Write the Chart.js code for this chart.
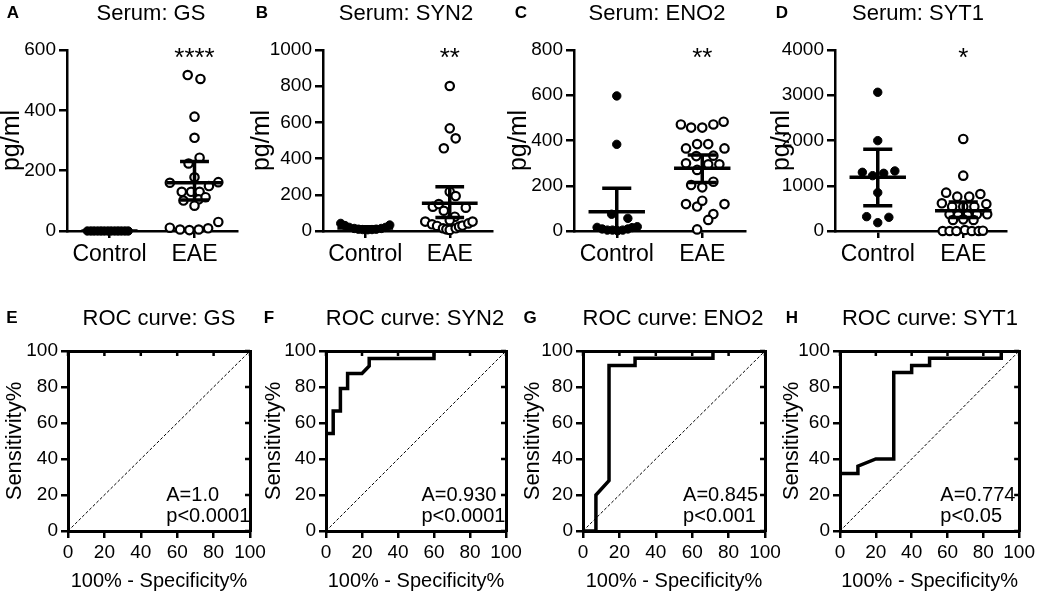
<!DOCTYPE html>
<html>
<head>
<meta charset="utf-8">
<script src="https://cdn.jsdelivr.net/npm/chart.js@4.4.1/dist/chart.umd.min.js"></script>
<style>
  body { margin: 0; background: #fff; }
  #fig { position: relative; width: 1038px; height: 593px; font-family: "Liberation Sans", Arial, sans-serif; color: #000; }
  #fig canvas { position: absolute; }
  .txt { position: absolute; transform: translate(-50%, -50%); white-space: nowrap; }
  .letter { font-weight: bold; font-size: 17px; }
  .title { font-size: 22px; }
</style>
</head>
<body>
<div id="fig">
  <canvas id="cA" width="250" height="290" style="left:0;top:0"></canvas>
  <canvas id="cB" width="257" height="290" style="left:250px;top:0"></canvas>
  <canvas id="cC" width="263" height="290" style="left:507px;top:0"></canvas>
  <canvas id="cD" width="268" height="290" style="left:770px;top:0"></canvas>
  <canvas id="cE" width="272" height="298" style="left:0;top:295px"></canvas>
  <canvas id="cF" width="272" height="298" style="left:259px;top:295px"></canvas>
  <canvas id="cG" width="272" height="298" style="left:518px;top:295px"></canvas>
  <canvas id="cH" width="261" height="298" style="left:777px;top:295px"></canvas>

  <div class="txt letter" style="left:13px;top:13px">A</div>
  <div class="txt letter" style="left:262px;top:13px">B</div>
  <div class="txt letter" style="left:521px;top:13px">C</div>
  <div class="txt letter" style="left:782px;top:13px">D</div>
  <div class="txt letter" style="left:12px;top:318px">E</div>
  <div class="txt letter" style="left:269px;top:318px">F</div>
  <div class="txt letter" style="left:530px;top:318px">G</div>
  <div class="txt letter" style="left:792px;top:318px">H</div>

  <div class="txt title" style="left:151px;top:13px">Serum: GS</div>
  <div class="txt title" style="left:406px;top:13px">Serum: SYN2</div>
  <div class="txt title" style="left:657px;top:13px">Serum: ENO2</div>
  <div class="txt title" style="left:918px;top:13px">Serum: SYT1</div>
  <div class="txt title" style="left:159px;top:318px">ROC curve: GS</div>
  <div class="txt title" style="left:415px;top:318px">ROC curve: SYN2</div>
  <div class="txt title" style="left:673px;top:318px">ROC curve: ENO2</div>
  <div class="txt title" style="left:930px;top:318px">ROC curve: SYT1</div>
</div>
<script>
const groups = ['Control', 'EAE'];

// serum GS (pg/ml), jitter is the horizontal spread of each dot in category units
const gsControl = [0, 0, 0, 0, 0, 0, 0, 0, 0, 0, 0, 0, 0];
const gsControlJit = [-0.26, -0.22, -0.18, -0.14, -0.10, -0.06, -0.02, 0.02, 0.06, 0.10, 0.14, 0.18, 0.22];
const gsEae = [517, 504, 379, 309, 243, 224, 178, 160, 162, 149, 130, 130, 130, 101, 105, 112, 84, 11, 5, 3, 5, 9, 30];
const gsEaeJit = [-0.08, 0.07, 0, 0, 0.06, -0.07, 0, -0.29, 0.28, 0.17, -0.15, -0.04, 0.06, -0.13, 0.05, 0.13, 0, -0.29, -0.17, -0.06, 0.05, 0.16, 0.28];
const gsMean = [0, 160];
const gsUpper = [0, 230];
const gsLower = [0, 103];

// serum SYN2
const syn2Control = [42, 30, 20, 14, 10, 8, 7, 8, 10, 14, 20, 33];
const syn2ControlJit = [-0.29, -0.24, -0.19, -0.13, -0.08, -0.03, 0.03, 0.08, 0.13, 0.19, 0.24, 0.29];
const syn2Eae = [801, 567, 512, 457, 217, 193, 134, 149, 112, 129, 79, 60, 52, 37, 28, 15, 9, 6, 15, 24, 30, 42, 52];
const syn2EaeJit = [0, 0, 0.07, -0.07, 0, 0.07, -0.2, -0.13, -0.07, 0.19, 0.06, 0, -0.29, -0.21, -0.15, -0.08, -0.04, 0, 0.07, 0.11, 0.15, 0.22, 0.27];
const syn2Mean = [17, 153];
const syn2Upper = [24, 245];
const syn2Lower = [10, 75];

// serum ENO2
const eno2Control = [597, 383, 74, 56, 16, 9, 4, 4, 1, 4, 9, 15, 19];
const eno2ControlJit = [0, 0, -0.06, 0.13, -0.23, -0.17, -0.11, -0.05, 0.01, 0.07, 0.13, 0.18, 0.24];
const eno2Eae = [471, 457, 457, 471, 483, 365, 384, 384, 365, 299, 331, 295, 333, 295, 270, 203, 193, 218, 119, 108, 134, 119, 75, 49, 7];
const eno2EaeJit = [-0.25, -0.13, 0, 0.13, 0.25, -0.19, -0.06, 0.07, 0.26, -0.19, -0.07, 0.07, 0.13, 0.2, -0.06, -0.13, 0, 0.13, -0.19, -0.06, 0, 0.26, 0.13, 0.07, -0.06];
const eno2Mean = [85, 277];
const eno2Upper = [189, 336];
const eno2Lower = [-19, 214];

// serum SYT1
const syt1Control = [3066, 1997, 1297, 1223, 1275, 1327, 848, 317, 302, 184];
const syt1ControlJit = [0, 0, -0.18, -0.06, 0.07, 0.2, 0, -0.13, 0.13, 0];
const syt1Eae = [2034, 1223, 848, 759, 759, 818, 612, 538, 538, 538, 597, 369, 354, 354, 369, 369, 243, 258, 243, 0, 0, 0, 22, 0, 0, 7];
const syt1EaeJit = [0, 0, -0.2, -0.07, 0.07, 0.2, -0.25, -0.13, 0, 0.13, 0.27, -0.16, -0.06, 0.05, 0.16, 0.28, -0.12, 0, 0.12, -0.24, -0.16, -0.08, 0.02, 0.1, 0.18, 0.23];
const syt1Mean = [1187, 450];
const syt1Upper = [1806, 640];
const syt1Lower = [560, 300];

// ROC curves: 100% - specificity% (x) and sensitivity% (y)
const gsFpr = [0, 0, 100];
const gsSens = [0, 100, 100];
const syn2Fpr = [0, 0, 4, 4, 8, 8, 12, 12, 20, 24, 24, 60, 60, 100];
const syn2Sens = [0, 54.2, 54.2, 66.7, 66.7, 79.2, 79.2, 87.5, 87.5, 91.7, 95.8, 95.8, 100, 100];
const eno2Fpr = [0, 7.1, 7.1, 14.3, 14.3, 28.6, 28.6, 71.4, 71.4, 100];
const eno2Sens = [0, 0, 20, 28, 92, 92, 96, 96, 100, 100];
const syt1Fpr = [0, 0, 10, 10, 20, 30, 30, 40, 40, 50, 50, 90, 90, 100];
const syt1Sens = [0, 32, 32, 36, 40, 40, 88, 88, 92, 92, 96, 96, 100, 100];

Chart.defaults.font.family = "'Liberation Sans', Arial, sans-serif";
Chart.defaults.color = '#000';

// text placed at data coordinates (stars, AUC labels)
const notes = {
  id: 'notes',
  afterDatasetsDraw(chart, args, opts) {
    if (!opts.lines) return;
    const ctx = chart.ctx;
    const x = chart.scales.x, y = chart.scales.y;
    ctx.save();
    ctx.fillStyle = '#000';
    ctx.font = opts.font;
    ctx.textAlign = opts.align;
    ctx.textBaseline = opts.baseline;
    opts.lines.forEach(l => {
      ctx.fillText(l.text, x.getPixelForValue(l.x), y.getPixelForValue(l.y) + (opts.dy || 0));
    });
    ctx.restore();
  }
};

// inward tick marks on the top and right edges of the ROC frame
const mirrorTicks = {
  id: 'mirrorTicks',
  afterDraw(chart, args, opts) {
    if (!opts.length) return;
    const ctx = chart.ctx, a = chart.chartArea;
    const x = chart.scales.x, y = chart.scales.y;
    ctx.save();
    ctx.strokeStyle = '#000';
    ctx.lineWidth = 2.5;
    ctx.beginPath();
    x.ticks.forEach(t => {
      const px = x.getPixelForValue(t.value);
      ctx.moveTo(px, a.top);
      ctx.lineTo(px, a.top + opts.length);
    });
    y.ticks.forEach(t => {
      const py = y.getPixelForValue(t.value);
      ctx.moveTo(a.right, py);
      ctx.lineTo(a.right - opts.length, py);
    });
    ctx.stroke();
    ctx.restore();
  }
};
Chart.register(notes, mirrorTicks);

function barSegments(mean, upper, lower) {
  const pts = [];
  mean.forEach((m, i) => {
    const c = i + 1;
    pts.push({x: c - 0.33, y: m}, {x: c + 0.33, y: m}, {x: c, y: null});
    pts.push({x: c - 0.17, y: upper[i]}, {x: c + 0.17, y: upper[i]}, {x: c, y: null});
    pts.push({x: c - 0.17, y: lower[i]}, {x: c + 0.17, y: lower[i]}, {x: c, y: null});
    pts.push({x: c, y: lower[i]}, {x: c, y: upper[i]}, {x: c, y: null});
  });
  return pts;
}

function dotPanel(id, o) {
  const ctl = o.control.map((v, i) => ({x: 1 + o.controlJit[i], y: v}));
  const eae = o.eae.map((v, i) => ({x: 2 + o.eaeJit[i], y: v}));
  new Chart(document.getElementById(id), {
    type: 'scatter',
    data: {
      datasets: [
        { data: barSegments(o.mean, o.upper, o.lower), showLine: true, borderColor: '#000',
          borderWidth: 3.5, pointRadius: 0, spanGaps: false, clip: 0 },
        { data: ctl, pointRadius: 4.2, backgroundColor: '#000', borderColor: '#000', borderWidth: 1, clip: false },
        { data: eae, pointRadius: 4.2, backgroundColor: '#fff', borderColor: '#000', borderWidth: 2.2, clip: false }
      ]
    },
    options: {
      responsive: false,
      animation: false,
      layout: { padding: { top: 50, right: o.padRight, bottom: 0, left: 0 } },
      plugins: {
        legend: { display: false },
        tooltip: { enabled: false },
        notes: { lines: [{text: o.stars, x: 2, y: o.max}], font: '26px "Liberation Sans", Arial, sans-serif',
                 align: 'center', baseline: 'alphabetic', dy: 16 }
      },
      scales: {
        x: {
          type: 'linear', min: 0.5, max: 2.5,
          afterBuildTicks: s => { s.ticks = groups.map((g, i) => ({value: i + 1})); },
          afterFit: s => { s.height = 59; },
          ticks: { callback: v => groups[v - 1], font: {size: 23}, padding: 3, maxRotation: 0, autoSkip: false },
          grid: { drawOnChartArea: false, tickLength: 7, color: '#000', lineWidth: 2.5 },
          border: { color: '#000', width: 2.5 }
        },
        y: {
          min: 0, max: o.max,
          afterFit: s => { s.width = o.yWidth; },
          ticks: { stepSize: o.step, font: {size: 19}, padding: 3, callback: v => v },
          grid: { drawOnChartArea: false, tickLength: 8, color: '#000', lineWidth: 2.5 },
          border: { color: '#000', width: 2.5 },
          title: { display: true, text: 'pg/ml', font: {size: 25, lineHeight: 1}, padding: {top: 0, bottom: 0} }
        }
      }
    }
  });
}

function rocPanel(id, o) {
  const curve = o.fpr.map((v, i) => ({x: v, y: o.sens[i]}));
  const mirror = {
    type: 'linear', min: 0, max: 100,
    ticks: { display: false, stepSize: 20 },
    grid: { drawOnChartArea: false, drawTicks: false, color: '#000' },
    border: { color: '#000', width: 3 }
  };
  new Chart(document.getElementById(id), {
    type: 'scatter',
    data: {
      datasets: [
        { data: curve, showLine: true, borderColor: '#000', borderWidth: 3.5, pointRadius: 0,
          borderJoinStyle: 'miter' },
        { data: [{x: 0, y: 0}, {x: 100, y: 100}], showLine: true, borderColor: '#000', borderWidth: 1,
          borderDash: [3, 2], pointRadius: 0 }
      ]
    },
    options: {
      responsive: false,
      animation: false,
      layout: { padding: { top: 56, right: o.padRight, bottom: 0, left: 0 } },
      plugins: {
        legend: { display: false },
        tooltip: { enabled: false },
        mirrorTicks: { length: 5 },
        notes: { lines: [{text: o.auc, x: o.noteX, y: 20}, {text: o.p, x: o.noteX, y: 8}],
                 font: '20px "Liberation Sans", Arial, sans-serif', align: 'left', baseline: 'middle' }
      },
      scales: {
        x: {
          min: 0, max: 100,
          afterFit: s => { s.height = 62; },
          ticks: { stepSize: 20, font: {size: 19}, padding: 3, maxRotation: 0 },
          grid: { drawOnChartArea: false, tickLength: 7, color: '#000', lineWidth: 2.5 },
          border: { color: '#000', width: 3 },
          title: { display: true, text: '100% - Specificity%', font: {size: 20, lineHeight: 1.2}, padding: {top: 0, bottom: 0} }
        },
        y: {
          min: 0, max: 100,
          afterFit: s => { s.width = o.yWidth; },
          ticks: { stepSize: 20, font: {size: 19}, padding: 3 },
          grid: { drawOnChartArea: false, tickLength: 7, color: '#000', lineWidth: 2.5 },
          border: { color: '#000', width: 3 },
          title: { display: true, text: 'Sensitivity%', font: {size: 22, lineHeight: 1.1}, padding: {top: 3, bottom: 0} }
        },
        x2: Object.assign({ position: 'top', afterFit: s => { s.height = 0; } }, mirror),
        y2: Object.assign({ position: 'right', afterFit: s => { s.width = 0; } }, mirror)
      }
    }
  });
}

dotPanel('cA', { control: gsControl, controlJit: gsControlJit, eae: gsEae, eaeJit: gsEaeJit,
  mean: gsMean, upper: gsUpper, lower: gsLower, max: 600, step: 200, stars: '****', yWidth: 67, padRight: 13 });
dotPanel('cB', { control: syn2Control, controlJit: syn2ControlJit, eae: syn2Eae, eaeJit: syn2EaeJit,
  mean: syn2Mean, upper: syn2Upper, lower: syn2Lower, max: 1000, step: 200, stars: '**', yWidth: 73, padRight: 15 });
dotPanel('cC', { control: eno2Control, controlJit: eno2ControlJit, eae: eno2Eae, eaeJit: eno2EaeJit,
  mean: eno2Mean, upper: eno2Upper, lower: eno2Lower, max: 800, step: 200, stars: '**', yWidth: 67, padRight: 25 });
dotPanel('cD', { control: syt1Control, controlJit: syt1ControlJit, eae: syt1Eae, eaeJit: syt1EaeJit,
  mean: syt1Mean, upper: syt1Upper, lower: syt1Lower, max: 4000, step: 1000, stars: '*', yWidth: 65, padRight: 32 });

rocPanel('cE', { fpr: gsFpr, sens: gsSens, auc: 'A=1.0', p: 'p<0.0001', noteX: 54, yWidth: 68, padRight: 22 });
rocPanel('cF', { fpr: syn2Fpr, sens: syn2Sens, auc: 'A=0.930', p: 'p<0.0001', noteX: 53, yWidth: 67, padRight: 25 });
rocPanel('cG', { fpr: eno2Fpr, sens: eno2Sens, auc: 'A=0.845', p: 'p<0.001', noteX: 55, yWidth: 65, padRight: 25 });
rocPanel('cH', { fpr: syt1Fpr, sens: syt1Sens, auc: 'A=0.774', p: 'p<0.05', noteX: 56, yWidth: 63, padRight: 16 });
</script>
</body>
</html>
